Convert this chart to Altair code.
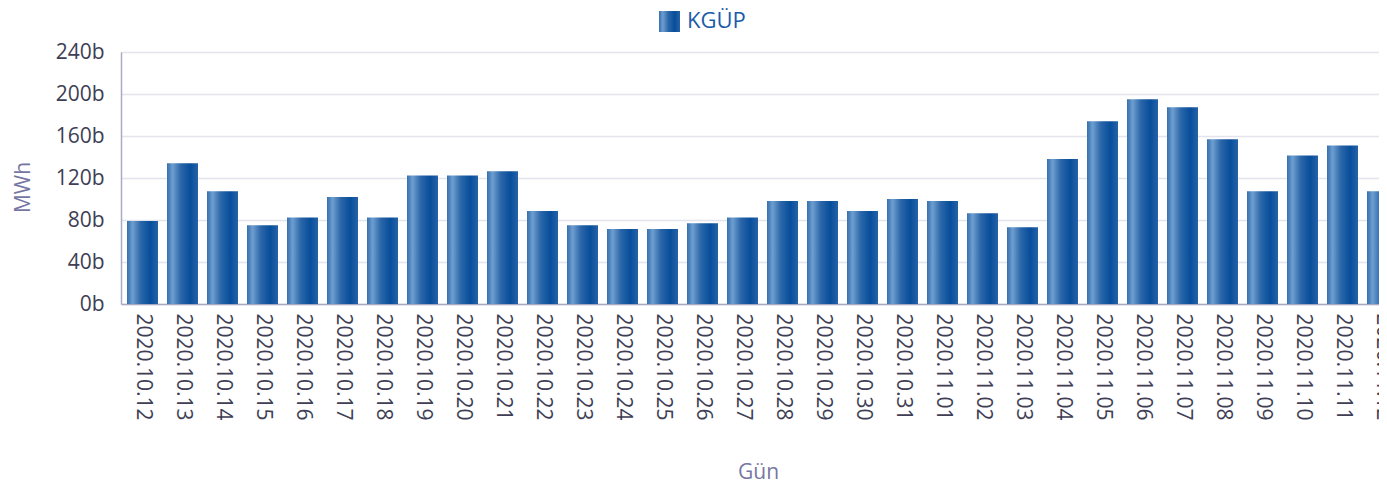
import altair as alt
import pandas as pd

dates = ["2020.10.12", "2020.10.13", "2020.10.14", "2020.10.15", "2020.10.16",
         "2020.10.17", "2020.10.18", "2020.10.19", "2020.10.20", "2020.10.21",
         "2020.10.22", "2020.10.23", "2020.10.24", "2020.10.25", "2020.10.26",
         "2020.10.27", "2020.10.28", "2020.10.29", "2020.10.30", "2020.10.31",
         "2020.11.01", "2020.11.02", "2020.11.03", "2020.11.04", "2020.11.05",
         "2020.11.06", "2020.11.07", "2020.11.08", "2020.11.09", "2020.11.10",
         "2020.11.11", "2020.11.12"]
values = [79, 134, 107.5, 75, 82.5, 102, 82.5, 122.5, 122.5, 126.5,
          88.5, 75, 71.5, 71.5, 77, 82.5, 98, 98, 88.5, 100,
          98, 86.5, 73, 138, 174, 195, 187.5, 157, 107.5, 141.5,
          151, 107.5]
series = ["KGÜP"]
y_ticks = [0, 40, 80, 120, 160, 200, 240]

FONT = "Open Sans"
TITLE_COLOR = "#7676a3"
LABEL_COLOR = "#3e3e54"

grad = alt.LinearGradient(
    gradient="linear", x1=0, x2=1, y1=0, y2=0,
    stops=[
        alt.GradientStop(offset=0.0, color="#346fae"),
        alt.GradientStop(offset=0.18, color="#6e9ecf"),
        alt.GradientStop(offset=0.45, color="#2a66a8"),
        alt.GradientStop(offset=0.75, color="#074e9b"),
        alt.GradientStop(offset=1.0, color="#2762a7"),
    ],
)

df = pd.DataFrame({"Gün": dates, "MWh": values})
leg = pd.DataFrame({"series": series})

bars = alt.Chart(df).mark_bar(fill=grad).encode(
    x=alt.X("Gün:N", sort=None,
            scale=alt.Scale(range=[0, 1283], paddingInner=0.225, paddingOuter=0.15),
            axis=alt.Axis(title="Gün", labelAngle=90, ticks=False, labelPadding=9,
                          labelFontSize=21, labelColor=LABEL_COLOR, labelFont=FONT,
                          domainColor="#a9a9c4", domainWidth=1.5, grid=False,
                          titleFont=FONT, titleFontSize=21, titleColor=TITLE_COLOR,
                          titleFontWeight="normal", titleX=637, titleY=174,
                          titleBaseline="alphabetic", titleAlign="center",
                          labelOverlap=False)),
    y=alt.Y("MWh:Q",
            scale=alt.Scale(domain=[0, 240], nice=False),
            axis=alt.Axis(title="MWh", values=y_ticks, labelExpr="datum.value + 'b'",
                          ticks=False, labelPadding=17, labelFontSize=21,
                          labelColor=LABEL_COLOR, labelFont=FONT,
                          domainColor="#a9a9c4", domainWidth=1.5,
                          gridColor="#e4e4ee", gridWidth=1.5,
                          titleFont=FONT, titleFontSize=21, titleColor=TITLE_COLOR,
                          titleFontWeight="normal", titlePadding=22, titleY=135)),
)

leg_rect = alt.Chart(leg).mark_rect(fill=grad).encode(
    x=alt.value(538), x2=alt.value(559), y=alt.value(-41), y2=alt.value(-20)
)
leg_text = alt.Chart(leg).mark_text(
    align="left", baseline="alphabetic", fontSize=22, font=FONT, color="#1a5ca8"
).encode(x=alt.value(566), y=alt.value(-24), text="series:N")

chart = alt.layer(bars, leg_rect, leg_text).properties(
    width=1258, height=252,
    autosize=alt.AutoSizeParams(type="none"),
    padding={"left": 113, "top": 44, "right": 0, "bottom": 180},
    background="white",
).configure_view(strokeWidth=0)

chart.save("out.html", embed_options={"renderer": "svg", "actions": False})
